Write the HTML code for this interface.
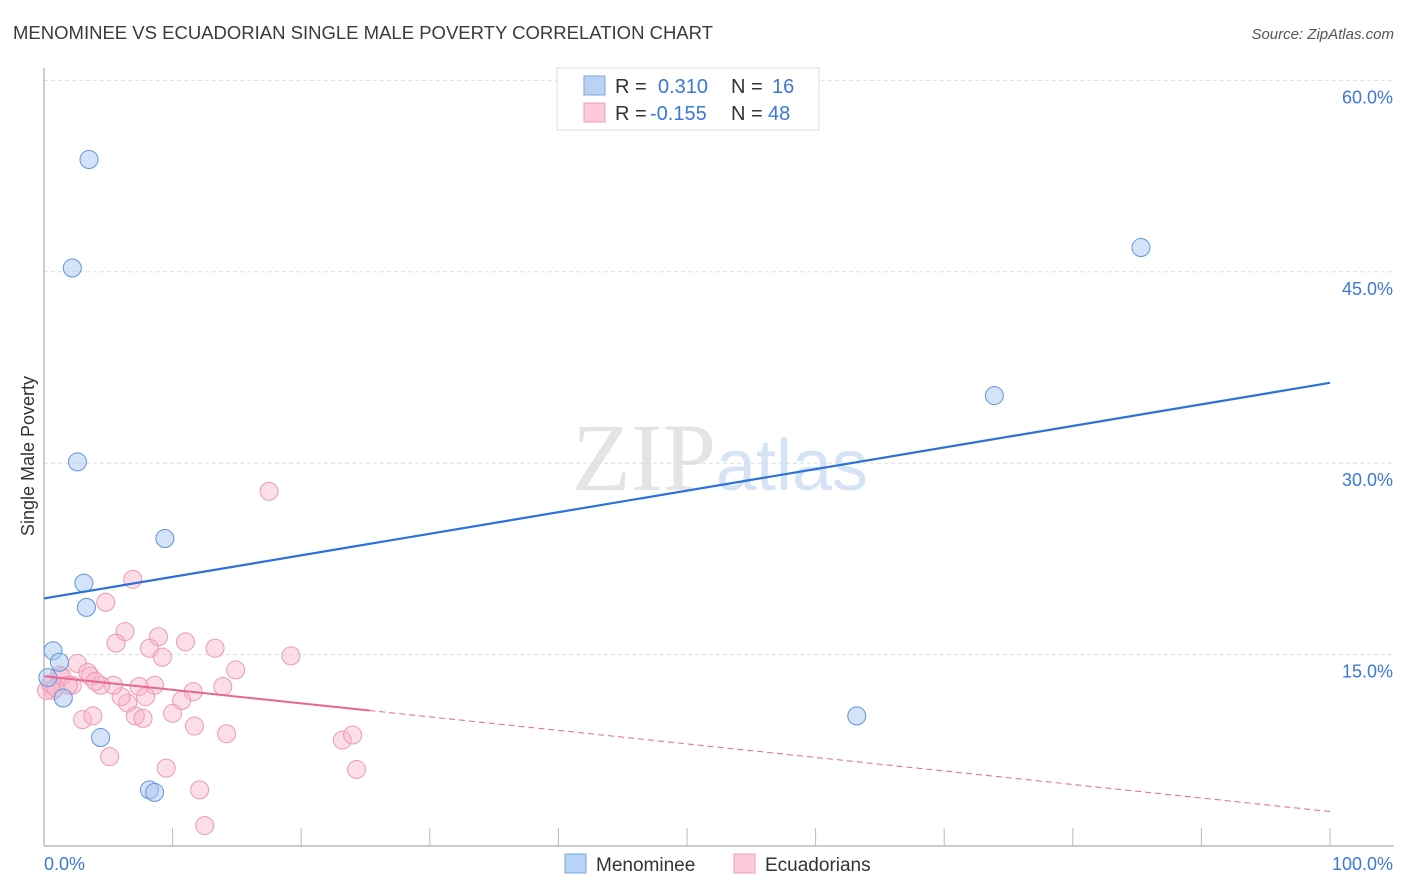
<!DOCTYPE html>
<html><head><meta charset="utf-8">
<style>
body{margin:0;background:#fff;font-family:"Liberation Sans",sans-serif;}
svg{display:block}
</style></head>
<body>
<svg id="chart" width="1406" height="892" xmlns="http://www.w3.org/2000/svg">
<text x="13" y="39" font-size="18" fill="#3a3a3a" textLength="700" lengthAdjust="spacingAndGlyphs" font-family="Liberation Sans, sans-serif">MENOMINEE VS ECUADORIAN SINGLE MALE POVERTY CORRELATION CHART</text>
<text x="1394" y="39" font-size="15" fill="#555" text-anchor="end" font-style="italic">Source: ZipAtlas.com</text>
<text x="720" y="490" font-size="96" text-anchor="middle" fill="#e4e4e4" font-family="Liberation Serif, serif">ZIP<tspan fill="#d5e3f5" font-family="Liberation Sans, sans-serif" font-size="72">atlas</tspan></text>
<text transform="translate(34,456) rotate(-90)" font-size="18" fill="#333" text-anchor="middle">Single Male Poverty</text>
<g id="grid"></g>
<g id="marks"></g>
<g>
<rect x="557" y="68" width="262" height="62" fill="#fff" stroke="#ddd"/>
<rect x="584" y="76" width="21" height="19" fill="#b8d3f5" stroke="#7aa7e0"/>
<rect x="584" y="103" width="21" height="19" fill="#fccad8" stroke="#ef9fb8"/>
<text x="615" y="93" font-size="20" fill="#333">R = </text><text x="658" y="93" font-size="20" fill="#3b78d8">0.310</text>
<text x="731" y="93" font-size="20" fill="#333">N = </text><text x="772" y="93" font-size="20" fill="#3b78d8">16</text>
<text x="615" y="120" font-size="20" fill="#333">R = </text><text x="650" y="120" font-size="20" fill="#3b78d8">-0.155</text>
<text x="731" y="120" font-size="20" fill="#333">N = </text><text x="768" y="120" font-size="20" fill="#3b78d8">48</text>
</g>
<g>
<rect x="565" y="854" width="21" height="19" fill="#b8d3f5" stroke="#7aa7e0"/>
<text x="596" y="871" font-size="19" fill="#333">Menominee</text>
<rect x="734" y="854" width="21" height="19" fill="#fccad8" stroke="#ef9fb8"/>
<text x="765" y="871" font-size="19" fill="#333">Ecuadorians</text>
</g>
</svg>
<script>
const yTicks=[15,30,45,60];
const xTickLabels=["0.0%","100.0%"];
const blueX=[3.5,2.2,2.6,9.4,3.1,3.3,0.7,1.2,1.5,4.4,8.2,8.6,63.2,73.9,85.3,0.3];
const blueY=[53.8,45.3,30.1,24.1,20.6,18.7,15.3,14.4,11.6,8.5,4.4,4.2,10.2,35.3,46.9,13.2];
const pinkX=[6.9,4.8,6.3,5.6,8.9,8.2,9.2,11.0,13.3,19.2,14.9,13.9,11.6,10.7,10.0,11.7,14.2,8.6,7.4,7.9,6.5,6.0,7.1,7.7,5.4,4.4,3.6,2.6,3.4,2.2,1.2,0.7,3.0,3.8,5.1,9.5,12.1,12.5,23.2,24.0,24.3,17.5,0.2,0.5,0.9,1.4,1.9,4.0];
const pinkY=[20.9,19.1,16.8,15.9,16.4,15.5,14.8,16.0,15.5,14.9,13.8,12.5,12.1,11.4,10.4,9.4,8.8,12.6,12.5,11.7,11.2,11.7,10.2,10.0,12.6,12.6,13.3,14.3,13.6,12.6,13.4,12.2,9.9,10.2,7.0,6.1,4.4,1.6,8.3,8.7,6.0,27.8,12.2,12.7,12.4,13.3,12.6,12.9];
const blueTrend=[19.4,36.3];
const pinkTrend=[13.3,2.7];
const pinkSolidEnd=25.3;
const NS="http://www.w3.org/2000/svg";
const X=v=>44+v*12.86, Y=v=>846-v*12.76;
const grid=document.getElementById('grid'), marks=document.getElementById('marks');
function mk(tag,at,parent){const e=document.createElementNS(NS,tag);for(const k in at)e.setAttribute(k,at[k]);parent.appendChild(e);return e;}
yTicks.forEach(t=>{
  const l=mk('line',{x1:44,x2:1394,y1:Y(t),y2:Y(t),stroke:'#ddd','stroke-dasharray':'4,3'},grid);
  
  
  const tx=mk('text',{x:1393,y:Y(t)+23,'font-size':18,fill:'#3b78d8','text-anchor':'end'},grid);
  tx.textContent=t.toFixed(1)+'%';
  
  
});
let ax=mk('line',{x1:44,x2:44,y1:68,y2:846,stroke:'#999'},grid);


ax=mk('line',{x1:44,x2:1394,y1:846,y2:846,stroke:'#999'},grid);


for(let i=1;i<=10;i++){const t=mk('line',{x1:X(i*10),x2:X(i*10),y1:828,y2:846,stroke:'#bbb'},grid);
  
  }
[[0,'start',44],[1,'end',1393]].forEach(([i,a,x])=>{const t=mk('text',{x:x,y:870,'font-size':18,fill:'#3b78d8','text-anchor':a},grid);t.textContent=xTickLabels[i];
  
  });
pinkX.forEach((v,i)=>{const c=mk('circle',{cx:X(v),cy:Y(pinkY[i]),r:9,fill:'rgba(249,182,202,0.45)',stroke:'#ec9ab4','stroke-width':1},marks);
  
  });
blueX.forEach((v,i)=>{const c=mk('circle',{cx:X(v),cy:Y(blueY[i]),r:9,fill:'rgba(170,200,240,0.5)',stroke:'#5f95dd','stroke-width':1},marks);
  
  });
const pe=pinkTrend[0]+(pinkTrend[1]-pinkTrend[0])*pinkSolidEnd/100;
let l=mk('line',{x1:X(pinkSolidEnd),y1:Y(pe),x2:X(100),y2:Y(pinkTrend[1]),stroke:'#e8668f','stroke-width':1,'stroke-dasharray':'6,4'},marks);


l=mk('line',{x1:X(0),y1:Y(pinkTrend[0]),x2:X(pinkSolidEnd),y2:Y(pe),stroke:'#e8668f','stroke-width':2},marks);


l=mk('line',{x1:X(0),y1:Y(blueTrend[0]),x2:X(100),y2:Y(blueTrend[1]),stroke:'#2a72d8','stroke-width':2.2},marks);


</script>
</body></html>
